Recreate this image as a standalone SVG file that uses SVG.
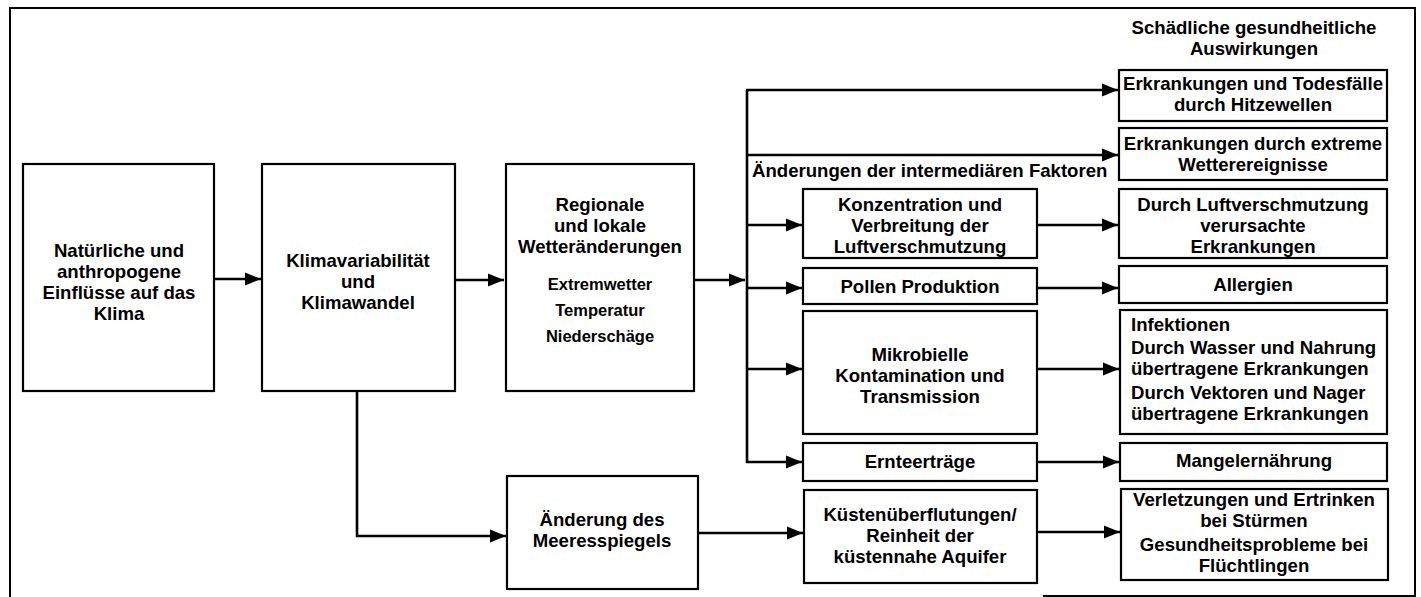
<svg xmlns="http://www.w3.org/2000/svg" width="1421" height="597" viewBox="0 0 1421 597">
<style>
  .box { fill: #fff; stroke: #000; stroke-width: 2.2; }
  .frame { fill: none; stroke: #000; stroke-width: 2; }
  .conn { fill: none; stroke: #000; stroke-width: 2.6; }
  text { font-family: "Liberation Sans", Arial, sans-serif; font-weight: 700; font-size: 18.6px; fill: #000; text-anchor: middle; }
  .sm { font-size: 16.5px; }
  .left { text-anchor: start; }
</style>
<defs>
  <marker id="ah" markerUnits="userSpaceOnUse" markerWidth="18" markerHeight="14" refX="16" refY="7" orient="auto">
    <path d="M0,0.5 L16,7 L0,13.5 z" fill="#000"/>
  </marker>
</defs>
<rect width="1421" height="597" fill="#fff"/>
<path class="frame" d="M10,597 L10,8 L1415,8 L1415,596 L1043,596"/>

<g id="connectors">
  <line class="conn" x1="214" y1="279" x2="261" y2="279" marker-end="url(#ah)"/>
  <line class="conn" x1="455" y1="280" x2="504" y2="280" marker-end="url(#ah)"/>
  <line class="conn" x1="694" y1="280" x2="745" y2="280" marker-end="url(#ah)"/>
  <path class="conn" d="M747,90 L747,462 L802,462" marker-end="url(#ah)"/>
  <line class="conn" x1="746" y1="90" x2="1118" y2="90" marker-end="url(#ah)"/>
  <line class="conn" x1="747" y1="155" x2="1118" y2="155" marker-end="url(#ah)"/>
  <line class="conn" x1="747" y1="225" x2="802" y2="225" marker-end="url(#ah)"/>
  <line class="conn" x1="747" y1="288" x2="802" y2="288" marker-end="url(#ah)"/>
  <line class="conn" x1="747" y1="369" x2="802" y2="369" marker-end="url(#ah)"/>
  <line class="conn" x1="1037" y1="225" x2="1118" y2="225" marker-end="url(#ah)"/>
  <line class="conn" x1="1037" y1="288" x2="1118" y2="288" marker-end="url(#ah)"/>
  <line class="conn" x1="1037" y1="369" x2="1119" y2="369" marker-end="url(#ah)"/>
  <line class="conn" x1="1037" y1="462" x2="1119" y2="462" marker-end="url(#ah)"/>
  <line class="conn" x1="1037" y1="532" x2="1120" y2="532" marker-end="url(#ah)"/>
  <path class="conn" d="M357,391 L357,536 L506,536" marker-end="url(#ah)"/>
  <line class="conn" x1="698" y1="533" x2="803" y2="533" marker-end="url(#ah)"/>
</g>

<g id="n1">
  <rect class="box" x="23" y="164" width="191" height="227"/>
  <text x="119" y="257">Natürliche und<tspan x="119" dy="21">anthropogene</tspan><tspan x="119" dy="21">Einflüsse auf das</tspan><tspan x="119" dy="21">Klima</tspan></text>
</g>
<g id="n2">
  <rect class="box" x="262" y="164" width="193" height="227"/>
  <text x="358" y="267">Klimavariabilität<tspan x="358" dy="21">und</tspan><tspan x="358" dy="21">Klimawandel</tspan></text>
</g>
<g id="n3">
  <rect class="box" x="506" y="164" width="188" height="227"/>
  <text x="600" y="211">Regionale<tspan x="600" dy="21">und lokale</tspan><tspan x="600" dy="21">Wetteränderungen</tspan></text>
  <text class="sm" x="600" y="290">Extremwetter<tspan x="600" dy="26">Temperatur</tspan><tspan x="600" dy="26">Niederschäge</tspan></text>
</g>
<g id="n4">
  <rect class="box" x="507" y="476" width="191" height="113"/>
  <text x="602" y="526">Änderung des<tspan x="602" dy="21">Meeresspiegels</tspan></text>
</g>

<g id="label-intermediate">
  <text class="left" x="752" y="177">Änderungen der intermediären Faktoren</text>
</g>
<g id="label-health">
  <text x="1254" y="34">Schädliche gesundheitliche<tspan x="1254" dy="21">Auswirkungen</tspan></text>
</g>

<g id="n5">
  <rect class="box" x="803" y="189" width="234" height="69"/>
  <text x="920" y="211">Konzentration und<tspan x="920" dy="21">Verbreitung der</tspan><tspan x="920" dy="21">Luftverschmutzung</tspan></text>
</g>
<g id="n6">
  <rect class="box" x="803" y="268" width="234" height="36"/>
  <text x="920" y="293">Pollen Produktion</text>
</g>
<g id="n7">
  <rect class="box" x="803" y="311" width="234" height="123"/>
  <text x="920" y="361">Mikrobielle<tspan x="920" dy="21">Kontamination und</tspan><tspan x="920" dy="21">Transmission</tspan></text>
</g>
<g id="n8">
  <rect class="box" x="803" y="443" width="234" height="38"/>
  <text x="920" y="468">Ernteerträge</text>
</g>
<g id="n9">
  <rect class="box" x="804" y="490" width="233" height="93"/>
  <text x="920" y="521">Küstenüberflutungen/<tspan x="920" dy="21">Reinheit der</tspan><tspan x="920" dy="21">küstennahe Aquifer</tspan></text>
</g>

<g id="n10">
  <rect class="box" x="1119" y="70" width="268" height="51"/>
  <text x="1253" y="90">Erkrankungen und Todesfälle<tspan x="1253" dy="21">durch Hitzewellen</tspan></text>
</g>
<g id="n11">
  <rect class="box" x="1119" y="128" width="268" height="52"/>
  <text x="1253" y="150">Erkrankungen durch extreme<tspan x="1253" dy="21">Wetterereignisse</tspan></text>
</g>
<g id="n12">
  <rect class="box" x="1119" y="189" width="268" height="69"/>
  <text x="1253" y="211">Durch Luftverschmutzung<tspan x="1253" dy="21">verursachte</tspan><tspan x="1253" dy="21">Erkrankungen</tspan></text>
</g>
<g id="n13">
  <rect class="box" x="1119" y="266" width="268" height="37"/>
  <text x="1253" y="291">Allergien</text>
</g>
<g id="n14">
  <rect class="box" x="1120" y="310" width="267" height="124"/>
  <text class="left" x="1131" y="331">Infektionen<tspan x="1131" dy="23">Durch Wasser und Nahrung</tspan><tspan x="1131" dy="21">übertragene Erkrankungen</tspan><tspan x="1131" dy="24">Durch Vektoren und Nager</tspan><tspan x="1131" dy="21">übertragene Erkrankungen</tspan></text>
</g>
<g id="n15">
  <rect class="box" x="1120" y="443" width="267" height="38"/>
  <text x="1254" y="467">Mangelernährung</text>
</g>
<g id="n16">
  <rect class="box" x="1121" y="489" width="267" height="91"/>
  <text x="1254" y="506">Verletzungen und Ertrinken<tspan x="1254" dy="21">bei Stürmen</tspan><tspan x="1254" dy="24">Gesundheitsprobleme bei</tspan><tspan x="1254" dy="21">Flüchtlingen</tspan></text>
</g>
</svg>
